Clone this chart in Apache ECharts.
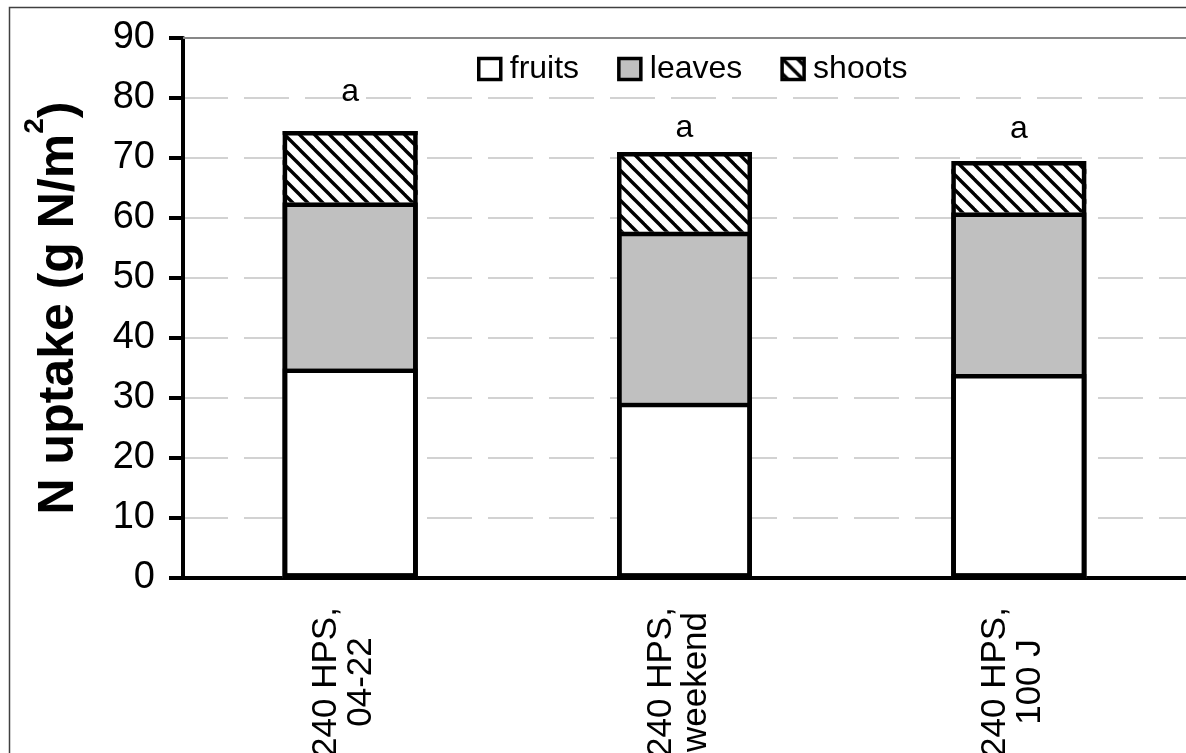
<!DOCTYPE html>
<html>
<head>
<meta charset="utf-8">
<script src="https://cdn.jsdelivr.net/npm/echarts@6/dist/echarts.min.js"></script>
<style>
html,body{margin:0;padding:0;background:#fff;}
#c{width:1186px;height:753px;}
</style>
</head>
<body>
<div id="c"></div>
<script>
const categories = ['240 HPS,\n04-22', '240 HPS,\nweekend', '240 HPS,\n100 J'];
const fruits = [34.9, 29.2, 34.0];
const leaves = [27.7, 28.5, 26.9];
const shoots = [11.9, 13.3, 8.6];
const letters = ['a', 'a', 'a'];
const letterPos = [81.0, 75.0, 74.8];
const yTicks = [0, 10, 20, 30, 40, 50, 60, 70, 80, 90];

// cumulative tops used only for drawing the black outlines of each stacked segment
const cumFruits = fruits.map((v, i) => v);
const cumLeaves = fruits.map((v, i) => v + leaves[i]);
const cumTotal = fruits.map((v, i) => v + leaves[i] + shoots[i]);

function hatch() {
  const s = 15;
  const cv = document.createElement('canvas');
  cv.width = s; cv.height = s;
  const g = cv.getContext('2d');
  g.fillStyle = '#fff';
  g.fillRect(0, 0, s, s);
  g.strokeStyle = '#000';
  g.lineWidth = 3.4;
  for (const x0 of [-s, 0, s]) {
    g.beginPath();
    g.moveTo(x0 - 2, -2);
    g.lineTo(x0 + s + 2, s + 2);
    g.stroke();
  }
  return cv;
}

const FONT = "'Liberation Sans', Arial, sans-serif";
const chart = echarts.init(document.getElementById('c'));
const BW = 135;

function outline(name, data) {
  return {
    name: name, type: 'bar', data: data, barWidth: BW, barGap: '-100%', silent: true, z: 5,
    itemStyle: { color: 'rgba(0,0,0,0)', borderColor: '#000', borderWidth: 4.5 }
  };
}

chart.setOption({
  animation: false,
  backgroundColor: '#fff',
  textStyle: { fontFamily: FONT, color: '#000' },
  graphic: [{
    type: 'rect', left: 7, top: 5, silent: true,
    shape: { width: 1300, height: 900 },
    style: { fill: 'none', stroke: '#404040', lineWidth: 1.5 }
  }],
  grid: { left: 183, right: 0, top: 38, bottom: 175, containLabel: false, outerBoundsMode: 'none' },
  legend: {
    data: ['fruits', 'leaves', 'shoots'],
    left: 472, top: 48,
    itemWidth: 22, itemHeight: 21, itemGap: 38,
    icon: 'rect',
    itemStyle: { borderColor: '#000', borderWidth: 3.5 },
    textStyle: { fontSize: 32, fontFamily: FONT, color: '#000', padding: [0, 0, 0, 4] }
  },
  xAxis: [{
    type: 'category',
    data: categories,
    axisLine: { lineStyle: { color: '#000', width: 4 } },
    axisTick: { show: false },
    axisLabel: {
      interval: 0, rotate: 90, align: 'center', verticalAlign: 'middle',
      margin: 104, fontSize: 35, lineHeight: 35, color: '#000', fontFamily: FONT,
      formatter: v => v + '\n{s| }',
      rich: { s: { fontSize: 2, lineHeight: 12 } }
    }
  }, {
    type: 'category',
    data: categories,
    position: 'top',
    axisLine: { show: true, lineStyle: { color: '#878787', width: 2 } },
    axisTick: { show: false },
    axisLabel: { show: false }
  }],
  yAxis: {
    type: 'value',
    min: yTicks[0], max: yTicks[yTicks.length - 1], interval: 10,
    name: '{b|N uptake (g N/m}{sup|2}{b|)}',
    nameLocation: 'middle',
    nameGap: 86,
    nameTextStyle: {
      fontSize: 50, fontWeight: 'bold', fontFamily: FONT, color: '#000',
      rich: {
        b: { fontSize: 50, fontWeight: 'bold', fontFamily: FONT, color: '#000', lineHeight: 76 },
        sup: { fontSize: 28, fontWeight: 'bold', fontFamily: FONT, color: '#000', verticalAlign: 'top', lineHeight: 28 }
      }
    },
    axisLine: { show: true, lineStyle: { color: '#000', width: 4 } },
    axisTick: { show: true, length: 14, lineStyle: { color: '#000', width: 4 } },
    axisLabel: { fontSize: 38, margin: 28, color: '#000', fontFamily: FONT },
    splitLine: { show: true, lineStyle: { color: '#c4c4c4', width: 1.5, type: [45, 16] } }
  },
  series: [
    { name: 'fruits', type: 'bar', stack: 'n', data: fruits, barWidth: BW,
      itemStyle: { color: '#fff', borderWidth: 0 } },
    { name: 'leaves', type: 'bar', stack: 'n', data: leaves, barWidth: BW,
      itemStyle: { color: '#c0c0c0', borderWidth: 0 } },
    { name: 'shoots', type: 'bar', stack: 'n', data: shoots, barWidth: BW,
      itemStyle: { color: { image: hatch(), repeat: 'repeat' }, borderWidth: 0 } },
    outline('o1', cumFruits),
    outline('o2', cumLeaves),
    outline('o3', cumTotal),
    { name: 'letters', type: 'scatter', data: letterPos, symbolSize: 0, silent: true, z: 6,
      itemStyle: { color: '#000' },
      label: { show: true, position: 'inside', fontSize: 32, color: '#000', fontFamily: FONT,
        textBorderWidth: 0, textBorderColor: 'transparent', opacity: 1,
        formatter: p => letters[p.dataIndex] } }
  ]
});
</script>
</body>
</html>
